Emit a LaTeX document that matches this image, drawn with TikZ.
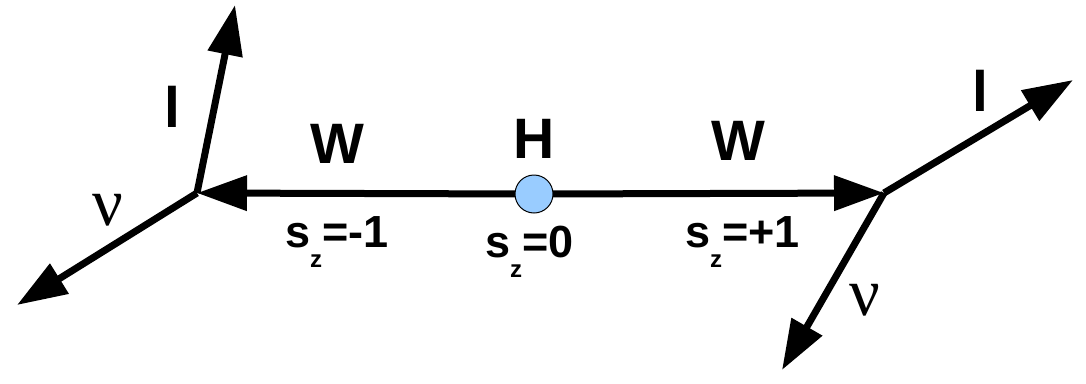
\documentclass[tikz,border=0pt]{standalone}
\usepackage{fontspec}
\setmainfont{Liberation Sans}
\newfontfamily\nufont{Liberation Serif}
\usetikzlibrary{arrows.meta}
\definecolor{hblue}{RGB}{153,204,255}
\tikzset{
  arr/.style={line width=7pt,-{Triangle[length=50pt,width=34pt]}},
  big/.style={inner sep=0pt,anchor=base,font=\fontsize{57}{57}\selectfont\bfseries},
  nulab/.style={inner sep=0pt,anchor=base,font=\fontsize{68}{68}\selectfont\nufont},
  szlab/.style={inner sep=0pt,anchor=base west,font=\fontsize{45}{45}\selectfont\bfseries},
  higgs/.style={circle,draw=black,line width=1pt,fill=hblue,minimum size=38pt,inner sep=0pt}
}
\newcommand{\szsub}{\raisebox{-20pt}{\fontsize{24}{24}\selectfont\bfseries z}}
\begin{document}
\begin{tikzpicture}[x=1pt,y=-1pt]
\useasboundingbox (0,0) rectangle (1086,383);
% vertices
\coordinate (L) at (197,193);
\coordinate (R) at (884,193);
\coordinate (Hc) at (534,194);
\coordinate (Ltip) at (235,5);
\coordinate (Lnu) at (17,305);
\coordinate (Rtip) at (1073,80);
\coordinate (Rnu) at (782,370);
% horizontal W lines
\draw[arr] (Hc) -- (L);
\draw[arr] (Hc) -- (R);
% decay products
\draw[arr] (L) -- (Ltip);
\draw[arr] (L) -- (Lnu);
\draw[arr] (R) -- (Rtip);
\draw[arr] (R) -- (Rnu);
% Higgs
\node[higgs] (H) at (Hc) {};
% labels
\node[big] (lL) at (172,127) {l};
\node[big] (lR) at (980.5,111) {l};
\node[big] (WL) at (337,163) {W};
\node[big] (Hl) at (534,158) {H};
\node[big] (WR) at (738,160) {W};
\node[nulab] (nuL) at (108,225) {ν};
\node[nulab] (nuR) at (865,315) {ν};
\node[szlab] (sL) at (285,247) {s\szsub=-1};
\node[szlab] (sH) at (485,257) {s\szsub=0};
\node[szlab] (sR) at (685,247) {s\szsub=+1};
\end{tikzpicture}
\end{document}
